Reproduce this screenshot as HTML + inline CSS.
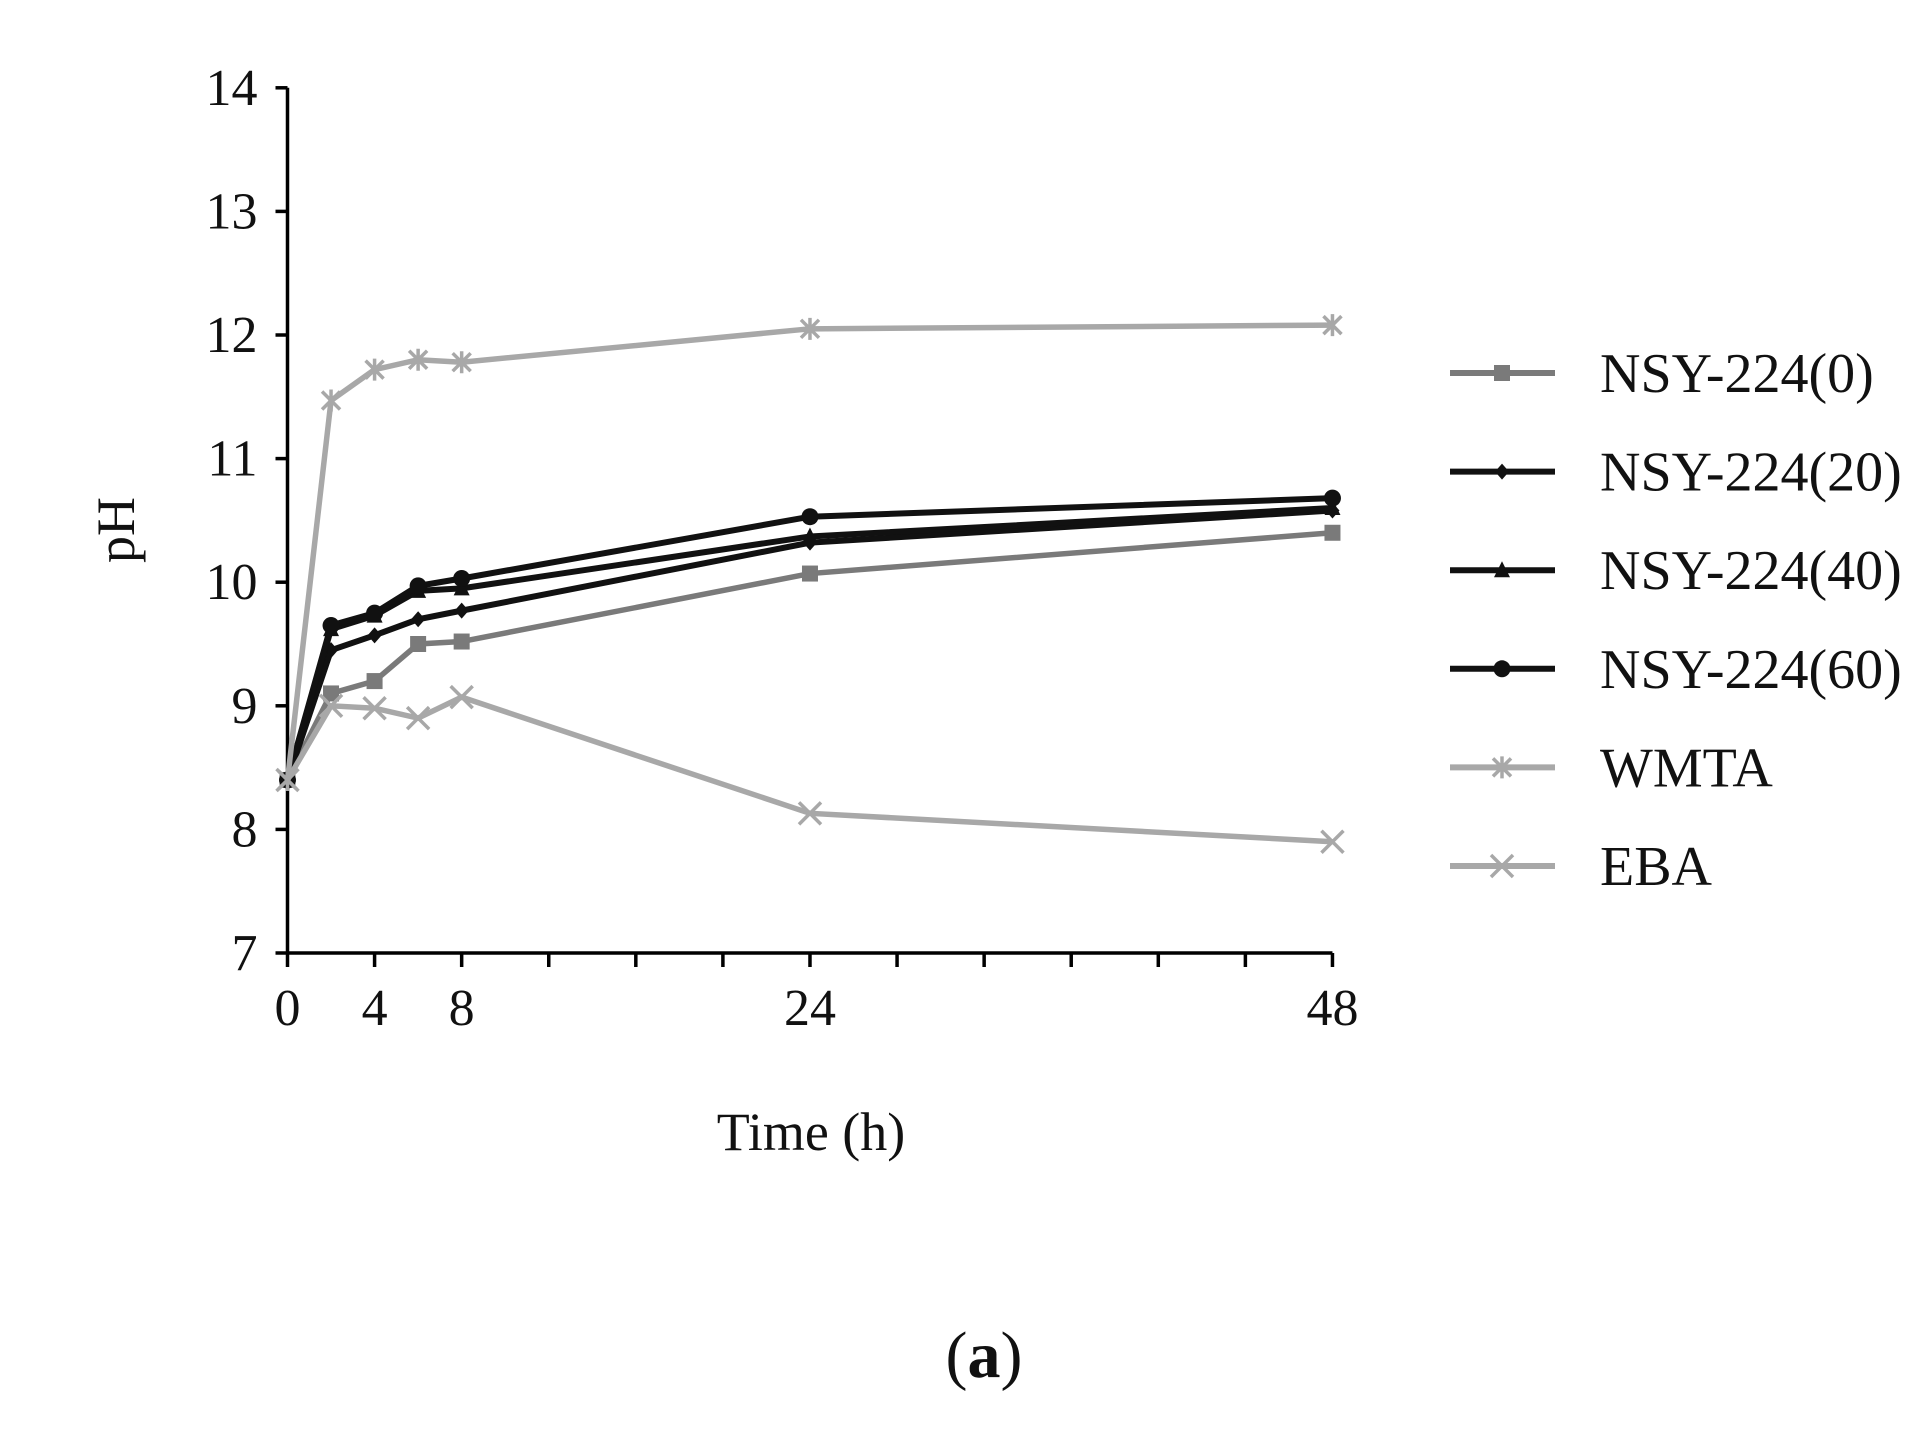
<!DOCTYPE html>
<html><head><meta charset="utf-8"><style>
html,body{margin:0;padding:0;background:#fff;}
svg{display:block;}
text{font-family:"Liberation Serif",serif;fill:#111;}
</style></head><body>
<svg id="s" width="1925" height="1432" viewBox="0 0 1925 1432" xmlns="http://www.w3.org/2000/svg"></svg>
<script>
const s=document.getElementById('s');
const X=h=>287.5+h*21.77, Y=v=>953-(v-7)*123.6;
let o='';
o+=`<line x1="${X(0)}" y1="${Y(14)}" x2="${X(0)}" y2="${Y(7)}" stroke="#000" stroke-width="3.5"/>`;
o+=`<line x1="${X(0)}" y1="${Y(7)}" x2="${X(48)}" y2="${Y(7)}" stroke="#000" stroke-width="3.5"/>`;
for(let v=7;v<=14;v++){o+=`<line x1="${X(0)-12}" y1="${Y(v)}" x2="${X(0)}" y2="${Y(v)}" stroke="#000" stroke-width="3.5"/>`;
o+=`<text x="${X(0)-30}" y="${Y(v)+17}" font-size="52" text-anchor="end">${v}</text>`;}
for(let h=0;h<=48;h+=4){o+=`<line x1="${X(h)}" y1="${Y(7)}" x2="${X(h)}" y2="${Y(7)+14}" stroke="#000" stroke-width="3.5"/>`;}
[0,4,8,24,48].forEach(h=>o+=`<text x="${X(h)}" y="${Y(7)+72}" font-size="52" text-anchor="middle">${h}</text>`);
o+=`<text transform="translate(134,530) rotate(-90)" font-size="54" text-anchor="middle">pH</text>`;
o+=`<text x="811" y="1150" font-size="54" text-anchor="middle">Time (h)</text>`;
o+=`<text x="984" y="1377" font-size="66" text-anchor="middle">(<tspan font-weight="bold">a</tspan>)</text>`;
const T=[0,2,4,6,8,24,48];
const S=[
 ['NSY-224(0)','#7a7a7a','sq',[8.4,9.1,9.2,9.5,9.52,10.07,10.4]],
 ['NSY-224(20)','#111','dm',[8.4,9.45,9.57,9.7,9.77,10.32,10.58]],
 ['NSY-224(40)','#111','tr',[8.4,9.62,9.73,9.93,9.95,10.37,10.6]],
 ['NSY-224(60)','#111','ci',[8.4,9.65,9.75,9.97,10.03,10.53,10.68]],
 ['WMTA','#a8a8a8','as',[8.4,11.47,11.72,11.8,11.78,12.05,12.08]],
 ['EBA','#a8a8a8','x',[8.4,9.0,8.98,8.9,9.07,8.13,7.9]]];
function mk(t,x,y,c){
 if(t=='sq')return `<rect x="${x-8}" y="${y-8}" width="16" height="16" fill="${c}"/>`;
 if(t=='dm')return `<polygon points="${x},${y-8} ${x+7},${y} ${x},${y+8} ${x-7},${y}" fill="${c}"/>`;
 if(t=='tr')return `<polygon points="${x},${y-9} ${x+8},${y+7} ${x-8},${y+7}" fill="${c}"/>`;
 if(t=='ci')return `<circle cx="${x}" cy="${y}" r="8.5" fill="${c}"/>`;
 if(t=='as')return `<path d="M${x-9} ${y-9}L${x+9} ${y+9}M${x+9} ${y-9}L${x-9} ${y+9}M${x} ${y-11}V${y+11}" stroke="${c}" stroke-width="3.5"/>`;
 return `<path d="M${x-11} ${y-11}L${x+11} ${y+11}M${x+11} ${y-11}L${x-11} ${y+11}" stroke="${c}" stroke-width="3.5"/>`;
}
S.forEach((d,i)=>{
 const pts=T.map((t,j)=>[X(t),Y(d[3][j])]);
 o+=`<polyline points="${pts.map(p=>p.join(',')).join(' ')}" fill="none" stroke="${d[1]}" stroke-width="${d[1]=='#111'?6:5.5}"/>`;
 pts.forEach(p=>o+=mk(d[2],p[0],p[1],d[1]));
 const ly=373+i*98.6;
 o+=`<line x1="1450" y1="${ly}" x2="1555" y2="${ly}" stroke="${d[1]}" stroke-width="6"/>`+mk(d[2],1502,ly,d[1]);
 o+=`<text x="1600" y="${ly+19}" font-size="56">${d[0]}</text>`;
});
s.innerHTML=o;
</script>
</body></html>
